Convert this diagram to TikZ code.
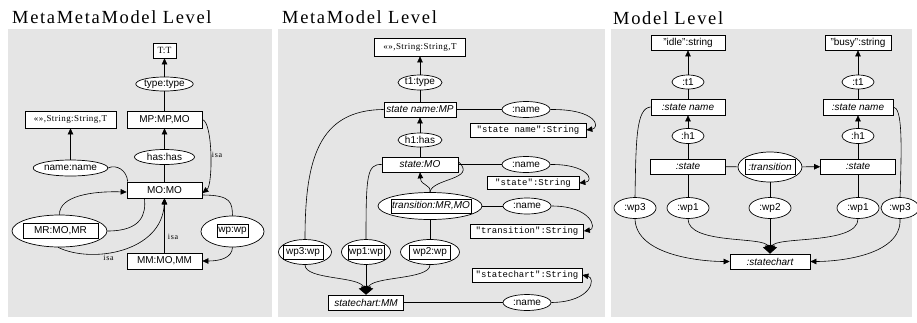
\documentclass[tikz,border=0pt]{standalone}
\usepackage{fontspec}
\setmainfont{Liberation Serif}
\setsansfont{Liberation Sans}
\setmonofont{Liberation Mono}
\usetikzlibrary{shapes.geometric,arrows.meta}
\definecolor{panelgray}{RGB}{229,229,229}

\begin{document}
\begin{tikzpicture}
  [x=1pt,y=-1pt,
   panel_style/.style={fill=panelgray,draw=none},
   title_style/.style={anchor=base west,inner sep=0pt,font=\fontsize{18.5}{18.5}\selectfont\addfontfeature{LetterSpace=9}},
   box_style/.style={rectangle,draw,fill=white,line width=0.7pt,minimum height=15pt,inner sep=1pt,font=\sffamily\fontsize{10}{10}\selectfont},
   it_style/.style={box_style,font=\sffamily\itshape\fontsize{10}{10}\selectfont},
   ser_style/.style={box_style,font=\fontsize{9}{9}\selectfont\addfontfeature{LetterSpace=5}},
   str_style/.style={box_style,font=\ttfamily\fontsize{9}{9}\selectfont},
   ell_style/.style={ellipse,draw,fill=white,line width=0.7pt,inner sep=0pt,minimum height=15pt,font=\sffamily\fontsize{10}{10}\selectfont},
   edge_style/.style={draw=black,line width=0.6pt},
   arr_style/.style={edge_style,-{Triangle[length=6pt,width=5.5pt]}},
   big_style/.style={edge_style,-{Triangle[length=8pt,width=10pt]}},
   isa_style/.style={inner sep=1pt,font=\fontsize{8}{8}\selectfont\addfontfeature{LetterSpace=8}}]
  \useasboundingbox (0,0) rectangle (917,322);
  \fill[panel_style] (8,29) rectangle (272,317);
  \fill[panel_style] (278,29) rectangle (605,317);
  \fill[panel_style] (611,29) rectangle (912,317);
  \node[title_style] (title1) at (12,23) {MetaMetaModel Level};
  \node[title_style] (title2) at (282,23) {MetaModel Level};
  \node[title_style] (title3) at (613,24) {Model Level};

  % metametamodel
  \node[ser_style,minimum width=23pt,font=\fontsize{9.5}{9.5}\selectfont] (tt) at (164.5,50.5) {T:T};
  \node[ell_style,minimum width=52pt,minimum height=14pt] (typetype) at (164.5,84) {type:type};
  \node[box_style,minimum width=75pt,minimum height=17pt] (mp) at (164.5,119.5) {MP:MP,MO};
  \node[ser_style,minimum width=91pt,minimum height=17pt] (str0) at (70.5,119.5) {«»,String:String,T};
  \node[ell_style,minimum width=60pt] (hashas) at (164.5,157) {has:has};
  \node[ell_style,minimum width=65pt,minimum height=16pt] (namename) at (70.5,168) {name:name};
  \node[box_style,minimum width=75pt,minimum height=16pt] (mo) at (164.5,190) {MO:MO};
  \node[ell_style,minimum width=95pt,minimum height=32pt] (mr) at (59.5,231) {};
  \node[box_style,minimum width=75pt] (mr_box) at (60.5,230.5) {MR:MO,MR};
  \node[ell_style,minimum width=63pt,minimum height=31pt] (wp) at (232.5,231.5) {};
  \node[box_style,minimum width=31pt,minimum height=13pt] (wp_box) at (232.5,230.5) {wp:wp};
  \node[box_style,minimum width=75pt,minimum height=16pt] (mm) at (164.5,261) {MM:MO,MM};
  \draw[arr_style] (typetype) -- (tt);
  \draw[edge_style] (mp) -- (typetype);
  \draw[arr_style] (hashas) -- (mp);
  \draw[edge_style] (mo) -- (hashas);
  \draw[arr_style] (namename) -- (str0);
  \draw[edge_style] (namename.east) .. controls (116,164) and (127,170) .. ([xshift=1pt]mo.north west);
  \draw[arr_style] (mp.east) .. controls (213,122) and (213,185) .. ([yshift=-3pt]mo.east);
  \node[isa_style] (isa1) at (217,155) {isa};
  \draw[arr_style] (mr.north) .. controls (59,196) and (92,191) .. ([yshift=-2pt]mo.west);
  \draw[edge_style] (mr.east) .. controls (142,231) and (146,214) .. ([xshift=-20pt]mo.south);
  \draw[arr_style] (mr.-95) .. controls (92,264) and (162,252) .. (mo.south);
  \node[isa_style] (isa2) at (108.5,258) {isa};
  \draw[arr_style] (mm) -- (mo);
  \node[isa_style] (isa3) at (173,237) {isa};
  \draw[edge_style] ([yshift=-5pt]mo.east) .. controls (232,195) and (232,203) .. (wp.north);
  \draw[arr_style] (wp.south) .. controls (232,258) and (220,261) .. (mm.east);

  % metamodel
  \node[ser_style,minimum width=91pt,minimum height=18pt] (str1) at (420,47) {«»,String:String,T};
  \node[ell_style,minimum width=44pt] (t1type) at (420,82.5) {t1:type};
  \node[it_style,minimum width=72pt] (sname) at (420,109.5) {state name:MP};
  \node[ell_style,minimum width=48pt,minimum height=16pt] (name1) at (526,109.5) {:name};
  \node[str_style,minimum width=116pt,minimum height=14pt] (sval1) at (528,130) {"state name":String};
  \node[ell_style,minimum width=44pt,minimum height=14pt] (h1has) at (420,140) {h1:has};
  \node[it_style,minimum width=76pt] (smo) at (420,164.5) {state:MO};
  \node[ell_style,minimum width=48pt,minimum height=16pt] (name2) at (526,164.5) {:name};
  \node[str_style,minimum width=92pt,minimum height=13pt] (sval2) at (533,183) {"state":String};
  \node[ell_style,minimum width=104pt,minimum height=27pt] (trans) at (430,206) {};
  \node[it_style,minimum width=80pt,minimum height=14pt] (trans_box) at (431,206) {transition:MR,MO};
  \node[ell_style,minimum width=48pt,minimum height=16pt] (name3) at (527,206) {:name};
  \node[str_style,minimum width=113pt,minimum height=14pt] (sval3) at (527,231) {"transition":String};
  \node[ell_style,minimum width=53pt,minimum height=25pt] (wp3) at (305,252) {};
  \node[box_style,minimum width=40pt,minimum height=14pt] (wp3_box) at (303,252) {wp3:wp};
  \node[ell_style,minimum width=49pt,minimum height=25pt] (wp1) at (366,252) {};
  \node[box_style,minimum width=36pt,minimum height=14pt] (wp1_box) at (366,252) {wp1:wp};
  \node[ell_style,minimum width=59pt,minimum height=25pt] (wp2) at (430,252) {};
  \node[box_style,minimum width=41pt,minimum height=14pt] (wp2_box) at (430,252) {wp2:wp};
  \node[str_style,minimum width=110pt,minimum height=14pt] (sval4) at (527,275) {"statechart":String};
  \node[it_style,minimum width=75pt] (chart) at (366,302.5) {statechart:MM};
  \node[ell_style,minimum width=48pt,minimum height=16pt] (name4) at (527,302.5) {:name};
  \draw[arr_style] (t1type) -- (str1);
  \draw[edge_style] (sname) -- (t1type);
  \draw[arr_style] (h1has) -- (sname);
  \draw[edge_style] (smo) -- (h1has);
  \draw[edge_style] (sname) -- (name1);
  \draw[arr_style] (name1.east) .. controls (598,109) and (600,128) .. (sval1.east);
  \draw[edge_style] (smo) -- (name2);
  \draw[arr_style] (name2.east) .. controls (588,164) and (595,181) .. (sval2.east);
  \draw[edge_style] (trans) -- (name3);
  \draw[arr_style] (name3.east) .. controls (592,206) and (597,229) .. (sval3.east);
  \draw[arr_style] (trans.north) .. controls (431,184) and (421,186) .. (smo.south);
  \draw[edge_style] (trans.north) .. controls (432,178) and (478,180) .. ([yshift=3pt]smo.east);
  \draw[edge_style] (trans) -- (wp2);
  \draw[edge_style] (wp1.north) .. controls (366,175) and (367,164) .. (smo.west);
  \draw[edge_style] (wp3.north) .. controls (305,160) and (318,110) .. (sname.west);
  \draw[big_style] (wp3.south) .. controls (305,280) and (360,276) .. (chart.north);
  \draw[big_style] (wp1) -- (chart);
  \draw[big_style] (wp2.south) .. controls (430,280) and (372,276) .. (chart.north);
  \draw[edge_style] (chart) -- (name4);
  \draw[arr_style] (name4.east) .. controls (592,302) and (596,278) .. (sval4.east);

  % model
  \node[box_style,minimum width=74pt] (idle) at (688,42.5) {"idle":string};
  \node[ell_style,minimum width=32pt,minimum height=14pt] (t1a) at (688,82) {:t1};
  \node[it_style,minimum width=74pt,minimum height=16pt] (snamea) at (688,107) {:state name};
  \node[ell_style,minimum width=32pt] (h1a) at (688,136) {:h1};
  \node[it_style,minimum width=75pt] (statea) at (688,166.5) {:state};
  \node[ell_style,minimum width=64pt,minimum height=30pt] (trans3) at (770,167) {};
  \node[it_style,minimum width=50pt] (trans3_box) at (770,166.5) {:transition};
  \node[box_style,minimum width=66pt] (busy) at (858,42.5) {"busy":string};
  \node[ell_style,minimum width=32pt,minimum height=14pt] (t1b) at (858,82) {:t1};
  \node[it_style,minimum width=70pt,minimum height=16pt] (snameb) at (858,107) {:state name};
  \node[ell_style,minimum width=32pt] (h1b) at (858,136) {:h1};
  \node[it_style,minimum width=75pt] (stateb) at (858,166.5) {:state};
  \node[ell_style,minimum width=42pt,minimum height=21pt] (wp3a) at (635,208) {:wp3};
  \node[ell_style,minimum width=42pt,minimum height=21pt] (wp1a) at (688,208) {:wp1};
  \node[ell_style,minimum width=42pt,minimum height=21pt] (wp2a) at (770,208) {:wp2};
  \node[ell_style,minimum width=42pt,minimum height=21pt] (wp1b) at (858,208) {:wp1};
  \node[ell_style,minimum width=38pt,minimum height=21pt] (wp3b) at (900,208) {:wp3};
  \node[it_style,minimum width=80pt] (chart3) at (770,261.5) {:statechart};
  \draw[arr_style] (t1a) -- (idle);
  \draw[edge_style] (snamea) -- (t1a);
  \draw[arr_style] (h1a) -- (snamea);
  \draw[edge_style] (statea) -- (h1a);
  \draw[arr_style] (t1b) -- (busy);
  \draw[edge_style] (snameb) -- (t1b);
  \draw[arr_style] (h1b) -- (snameb);
  \draw[edge_style] (stateb) -- (h1b);
  \draw[edge_style] (statea) -- (trans3);
  \draw[arr_style] (trans3) -- (stateb);
  \draw[edge_style] (statea) -- (wp1a);
  \draw[edge_style] (trans3) -- (wp2a);
  \draw[edge_style] (stateb) -- (wp1b);
  \draw[edge_style] (wp3a.north) .. controls (636,140) and (636,108) .. (snamea.west);
  \draw[edge_style] (wp3b.north) .. controls (902,140) and (902,108) .. (snameb.east);
  \draw[big_style] (wp1a.south) .. controls (688,245) and (765,236) .. (chart3.north);
  \draw[big_style] (wp2a) -- (chart3);
  \draw[big_style] (wp1b.south) .. controls (858,245) and (775,236) .. (chart3.north);
  \draw[arr_style] (wp3a.south) .. controls (636,255) and (700,261.5) .. (chart3.west);
  \draw[arr_style] (wp3b.south) .. controls (902,255) and (840,261.5) .. (chart3.east);
\end{tikzpicture}
\end{document}
